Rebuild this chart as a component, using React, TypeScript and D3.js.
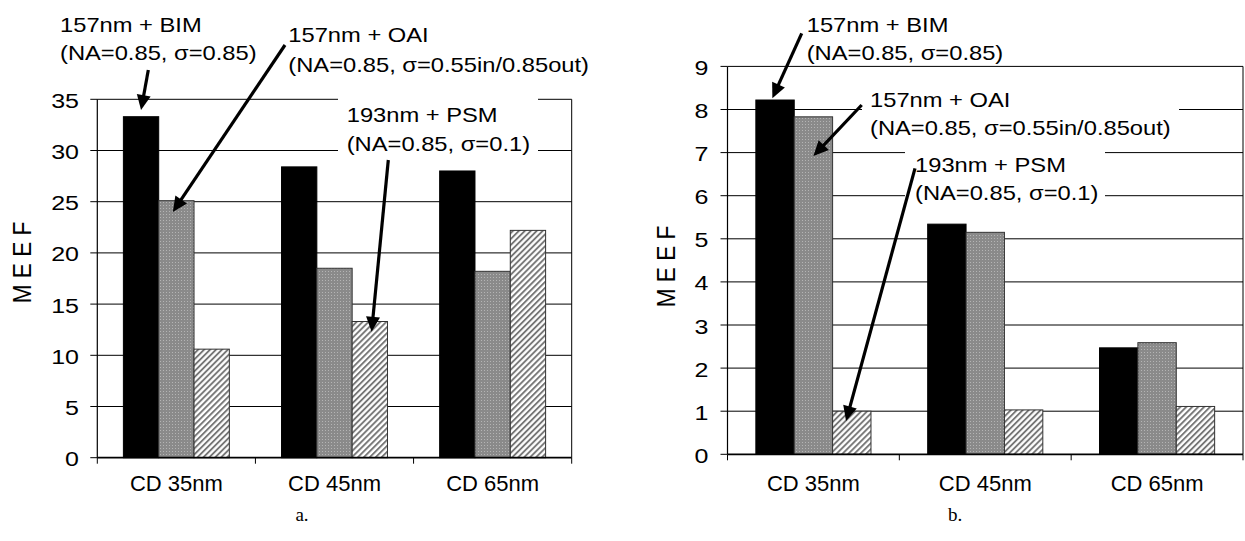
import React from "react";
import * as d3 from "d3";

// ---- data -------------------------------------------------------------
const categories = ["CD 35nm", "CD 45nm", "CD 65nm"];
const seriesKeys = ["bim", "oai", "psm"];

// (a) MEEF values
const bimA = [33.3, 28.4, 28.0];
const oaiA = [25.1, 18.5, 18.2];
const psmA = [10.6, 13.3, 22.2];
const ticksA = [0, 5, 10, 15, 20, 25, 30, 35];

// (b) MEEF values
const bimB = [8.22, 5.34, 2.47];
const oaiB = [7.83, 5.15, 2.59];
const psmB = [1.0, 1.03, 1.11];
const ticksB = [0, 1, 2, 3, 4, 5, 6, 7, 8, 9];

const bimLabel = ["157nm + BIM", "(NA=0.85, σ=0.85)"];
const oaiLabel = ["157nm + OAI", "(NA=0.85, σ=0.55in/0.85out)"];
const psmLabel = ["193nm + PSM", "(NA=0.85, σ=0.1)"];

// ---- styles -----------------------------------------------------------
const SANS = "'Liberation Sans', Arial, Helvetica, sans-serif";
const SERIF = "'Liberation Serif', 'Times New Roman', serif";
const STRETCH = 1.13;

type Frame = { x0: number; x1: number; yTop: number; yBase: number };

type Note = {
  lines: string[];
  x: number;
  y: number;
  gap: number;
  from: [number, number];
  tip: { cat: number; series: string; value: number; frac: number };
  box?: [number, number, number, number];
};

function STxt(props: {
  x: number;
  y: number;
  size: number;
  sx?: number;
  anchor?: "start" | "middle" | "end";
  family?: string;
  children: React.ReactNode;
}) {
  const { x, y, size, sx = 1, anchor = "start", family = SANS } = props;
  return (
    <text
      transform={`translate(${x},${y}) scale(${sx},1)`}
      fontSize={size}
      fontFamily={family}
      textAnchor={anchor}
      fill="#000"
    >
      {props.children}
    </text>
  );
}

function Arrow({ from, to }: { from: [number, number]; to: [number, number] }) {
  const [x1, y1] = from;
  const [x2, y2] = to;
  const dx = x2 - x1;
  const dy = y2 - y1;
  const len = Math.hypot(dx, dy);
  const ux = dx / len;
  const uy = dy / len;
  const headLen = 15;
  const half = 7;
  const bx = x2 - ux * headLen;
  const by = y2 - uy * headLen;
  const px = -uy;
  const py = ux;
  const head = d3.path();
  head.moveTo(x2, y2);
  head.lineTo(bx + px * half, by + py * half);
  head.lineTo(bx - px * half, by - py * half);
  head.closePath();
  return (
    <g>
      <line x1={x1} y1={y1} x2={bx + ux * 2} y2={by + uy * 2} stroke="#000" strokeWidth={3.2} />
      <path d={head.toString()} fill="#000" />
    </g>
  );
}

function Chart(props: {
  frame: Frame;
  yMax: number;
  ticks: number[];
  values: Record<string, number[]>;
  notes: Note[];
  tickFont: number;
  tickEnd: number;
  titleX: number;
  titleY: number;
  caption: string;
  captionX: number;
}) {
  const { frame, yMax, ticks, values, notes } = props;
  const x = d3.scaleBand<string>().domain(categories).range([frame.x0, frame.x1]);
  const bw = x.bandwidth();
  const groupRatio = 0.67;
  const inner = d3
    .scaleBand<string>()
    .domain(seriesKeys)
    .range([(bw * (1 - groupRatio)) / 2, (bw * (1 + groupRatio)) / 2]);
  const y = d3.scaleLinear().domain([0, yMax]).range([frame.yBase, frame.yTop]);

  const fills: Record<string, string> = {
    bim: "#000",
    oai: "url(#dots)",
    psm: "url(#hatch)",
  };
  const strokes: Record<string, string> = {
    bim: "#000",
    oai: "#333",
    psm: "#333",
  };

  const boundaries = [...categories.map((c) => x(c) as number), frame.x1];

  return (
    <g>
      {/* gridlines */}
      {ticks
        .filter((t) => t > 0)
        .map((t) => (
          <line key={`g${t}`} x1={frame.x0} x2={frame.x1} y1={y(t)} y2={y(t)} stroke="#000" strokeWidth={1} />
        ))}
      {/* right border of plot area */}
      <line x1={frame.x1} x2={frame.x1} y1={frame.yTop} y2={frame.yBase} stroke="#000" strokeWidth={1} />

      {/* bars */}
      {seriesKeys.map((s) =>
        categories.map((c, i) => {
          const v = values[s][i];
          const bx = (x(c) as number) + (inner(s) as number);
          return (
            <rect
              key={`${s}-${c}`}
              x={bx}
              y={y(v)}
              width={inner.bandwidth()}
              height={frame.yBase - y(v)}
              fill={fills[s]}
              stroke={strokes[s]}
              strokeWidth={1}
            />
          );
        })
      )}

      {/* y axis */}
      <line x1={frame.x0} x2={frame.x0} y1={frame.yTop} y2={frame.yBase} stroke="#000" strokeWidth={1.2} />
      {ticks.map((t) => (
        <g key={`t${t}`}>
          <line x1={frame.x0 - 7} x2={frame.x0} y1={y(t)} y2={y(t)} stroke="#000" strokeWidth={1} />
          <STxt x={props.tickEnd} y={y(t) + 8.5} size={props.tickFont} sx={1.25} anchor="end">
            {t}
          </STxt>
        </g>
      ))}

      {/* x axis */}
      <line x1={frame.x0} x2={frame.x1} y1={frame.yBase} y2={frame.yBase} stroke="#000" strokeWidth={1.8} />
      {boundaries.map((bx, i) => (
        <line key={`xt${i}`} x1={bx} x2={bx} y1={frame.yBase} y2={frame.yBase + 6} stroke="#000" strokeWidth={1} />
      ))}
      {categories.map((c) => (
        <STxt key={`xl${c}`} x={(x(c) as number) + bw / 2} y={491} size={22} anchor="middle">
          {c}
        </STxt>
      ))}

      {/* axis title */}
      <text
        transform={`translate(${props.titleX},${props.titleY}) rotate(-90) scale(1,${STRETCH})`}
        fontSize={22.6}
        fontFamily={SANS}
        textAnchor="middle"
      >
        M E E F
      </text>

      {/* annotations */}
      {notes.map((n, k) => {
        const cx = (x(categories[n.tip.cat]) as number) + (inner(n.tip.series) as number) + inner.bandwidth() * n.tip.frac;
        const cy = y(n.tip.value);
        return (
          <g key={`n${k}`}>
            {n.box && (
              <rect x={n.box[0]} y={n.box[1]} width={n.box[2] - n.box[0]} height={n.box[3] - n.box[1]} fill="#fff" />
            )}
            {n.lines.map((l, j) => (
              <STxt key={j} x={n.x} y={n.y + j * n.gap} size={21} sx={STRETCH}>
                {l}
              </STxt>
            ))}
            <Arrow from={n.from} to={[cx, cy]} />
          </g>
        );
      })}

      <STxt x={props.captionX} y={521} size={19} anchor="middle" family={SERIF}>
        {props.caption}
      </STxt>
    </g>
  );
}

export default function App() {
  const frameA: Frame = { x0: 97.3, x1: 571.7, yTop: 99.3, yBase: 457.7 };
  const frameB: Frame = { x0: 727.5, x1: 1243, yTop: 66.4, yBase: 454.3 };

  const notesA: Note[] = [
    { lines: bimLabel, x: 60, y: 31.7, gap: 28.3, from: [148.3, 70], tip: { cat: 0, series: "bim", value: 33.95, frac: 0.5 } },
    { lines: oaiLabel, x: 288.3, y: 41.7, gap: 30, from: [285, 45], tip: { cat: 0, series: "oai", value: 24.0, frac: 0.4 } },
    {
      lines: psmLabel,
      x: 346.7,
      y: 121.7,
      gap: 29.5,
      from: [388.3, 160],
      tip: { cat: 1, series: "psm", value: 12.3, frac: 0.55 },
      box: [338, 92, 538, 158],
    },
  ];

  const notesB: Note[] = [
    { lines: bimLabel, x: 806.7, y: 31.7, gap: 28.3, from: [801.7, 33.3], tip: { cat: 0, series: "bim", value: 8.26, frac: 0.43 } },
    {
      lines: oaiLabel,
      x: 870,
      y: 106.7,
      gap: 28.3,
      from: [861.7, 105],
      tip: { cat: 0, series: "oai", value: 6.92, frac: 0.5 },
      box: [862, 86, 1179, 142],
    },
    {
      lines: psmLabel,
      x: 915,
      y: 171.7,
      gap: 28.3,
      from: [915, 168.3],
      tip: { cat: 0, series: "psm", value: 0.77, frac: 0.35 },
      box: [905, 150, 1105, 205],
    },
  ];

  return (
    <svg
      width={1245}
      height={541}
      viewBox="0 0 1245 541"
      style={{ position: "absolute", left: 0, top: 0, background: "#fff" }}
    >
      <defs>
        <pattern id="dots" width={3} height={3} patternUnits="userSpaceOnUse">
          <rect width={3} height={3} fill="#8a8a8a" />
          <rect x={1} y={1} width={1} height={1} fill="#b4b4b4" />
        </pattern>
        <pattern id="hatch" width={4.2} height={4.2} patternUnits="userSpaceOnUse" patternTransform="rotate(45)">
          <rect width={4.2} height={4.2} fill="#fff" />
          <line x1={1} y1={0} x2={1} y2={4.2} stroke="#6e6e6e" strokeWidth={1.8} />
        </pattern>
      </defs>
      <rect width={1245} height={541} fill="#fff" />
      <Chart
        frame={frameA}
        yMax={35}
        ticks={ticksA}
        values={{ bim: bimA, oai: oaiA, psm: psmA }}
        notes={notesA}
        tickFont={20}
        tickEnd={79}
        titleX={31}
        titleY={262.5}
        caption="a."
        captionX={302}
      />
      <Chart
        frame={frameB}
        yMax={9}
        ticks={ticksB}
        values={{ bim: bimB, oai: oaiB, psm: psmB }}
        notes={notesB}
        tickFont={20}
        tickEnd={708.5}
        titleX={675}
        titleY={266.5}
        caption="b."
        captionX={955}
      />
    </svg>
  );
}
